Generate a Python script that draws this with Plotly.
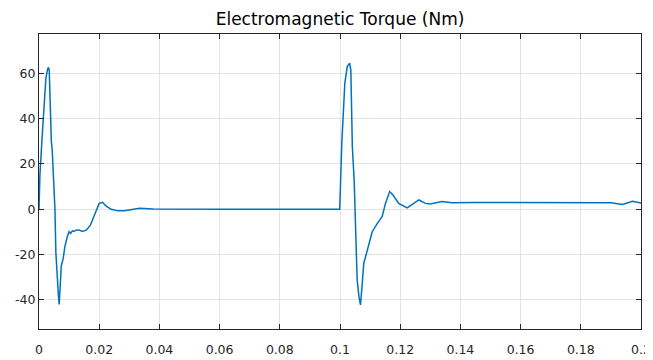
import plotly.graph_objects as go

# time (s) and electromagnetic torque (Nm)
t = [0.0, 0.0003, 0.001, 0.0017, 0.0023, 0.0029, 0.0032, 0.0034, 0.0037, 0.0041,
     0.0044, 0.0049, 0.0053, 0.0056, 0.0060, 0.0064, 0.0067, 0.0070, 0.0074, 0.0080,
     0.0086, 0.0094, 0.0100, 0.0105, 0.0111, 0.0116, 0.0122, 0.0133, 0.0144, 0.0158,
     0.0171, 0.0182, 0.0192, 0.0200, 0.0211, 0.0222, 0.0240, 0.0262, 0.0284, 0.0307,
     0.0334, 0.038, 0.045, 0.06, 0.08, 0.0999,
     0.1006, 0.1010, 0.1016, 0.1024, 0.1032, 0.1036, 0.1039, 0.1041, 0.1047, 0.1057,
     0.1063, 0.1068, 0.1074, 0.1079, 0.1085, 0.1096, 0.1107, 0.1124, 0.1140, 0.1151,
     0.1165, 0.1176, 0.1195, 0.1223, 0.1239, 0.1262, 0.1284, 0.1300, 0.1339, 0.1372,
     0.1450, 0.1593, 0.1700, 0.1800, 0.1900, 0.1939, 0.1972, 0.2000]
torque = [0.0, 15.0, 31.0, 46.0, 58.0, 62.0, 62.5, 61.4, 45.0, 30.0,
          26.0, 12.0, 0.0, -19.0, -32.0, -37.0, -42.0, -34.0, -25.0, -22.0,
          -16.5, -12.0, -9.9, -10.6, -9.5, -9.8, -9.2, -9.1, -9.8, -9.1,
          -6.9, -3.3, 0.4, 2.6, 3.1, 1.5, 0.0, -0.7, -0.6, 0.0,
          0.4, 0.1, 0.0, 0.0, 0.0, 0.0,
          29.1, 40.9, 55.6, 62.9, 64.4, 61.4, 42.3, 27.6, 12.9, -31.2,
          -38.5, -42.2, -32.6, -23.8, -20.9, -15.0, -9.9, -6.2, -3.3, 2.6,
          7.8, 6.3, 2.6, 0.6, 1.9, 4.1, 2.6, 2.3, 3.4, 2.9,
          3.0, 3.0, 3.0, 3.0, 2.9, 2.1, 3.5, 2.8]

x_ticks = [0, 0.02, 0.04, 0.06, 0.08, 0.1, 0.12, 0.14, 0.16, 0.18, 0.2]
x_tick_labels = ["0", "0.02", "0.04", "0.06", "0.08", "0.1", "0.12", "0.14", "0.16", "0.18", "0.2"]
y_ticks = [-40, -20, 0, 20, 40, 60]
y_tick_labels = ["-40", "-20", "0", "20", "40", "60"]

FONT = "DejaVu Sans, Liberation Sans, Arial"

fig = go.Figure()
fig.add_trace(go.Scatter(x=t, y=torque, mode="lines",
                         line=dict(color="#0072BD", width=1.5, shape="linear"),
                         showlegend=False, hoverinfo="skip"))

axis_common = dict(showline=True, linecolor="#262626", linewidth=1, mirror="ticks",
                   ticks="inside", ticklen=5, tickcolor="#262626", tickwidth=1,
                   showgrid=True, gridcolor="#e3e3e3", gridwidth=1, zeroline=False,
                   automargin=False,
                   tickfont=dict(family=FONT, size=12.5, color="#262626"))

# the page body adds an 8px offset, so the figure is 8px smaller on each side
W, H = 645, 352
fig.update_layout(
    width=W, height=H,
    margin=dict(l=31, r=11.5, t=26, b=31, autoexpand=False),
    paper_bgcolor="white", plot_bgcolor="white",
    title=dict(text="Electromagnetic Torque (Nm)", x=0.5, xref="paper", xanchor="center",
               y=1 - 11 / H, yanchor="middle", automargin=False,
               font=dict(family=FONT, size=17, color="#000000")),
    xaxis=dict(range=[0, 0.2], tickvals=x_ticks, ticktext=x_tick_labels,
               ticklabelstandoff=9, **axis_common),
    yaxis=dict(range=[-52.8, 77.3], tickvals=y_ticks, ticktext=y_tick_labels, **axis_common),
)

fig.write_html("out.html")
